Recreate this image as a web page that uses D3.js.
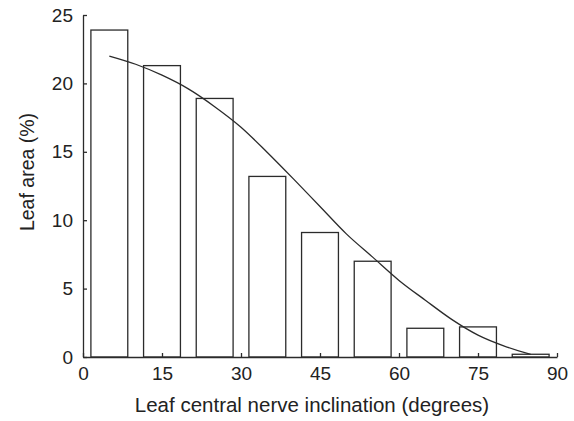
<!DOCTYPE html>
<html>
<head>
<meta charset="utf-8">
<script src="https://cdn.jsdelivr.net/npm/d3@7"></script>
<style>
  body { margin: 0; background: #fff; }
  svg { display: block; font-family: "Liberation Sans", Arial, Helvetica, sans-serif; }
</style>
</head>
<body>
<div id="chart"></div>
<script>
// bin centres (degrees) and leaf area share (%)
var binCentres = [5, 15, 25, 35, 45, 55, 65, 75, 85];
var leafArea   = [23.9, 21.3, 18.9, 13.2, 9.1, 7.0, 2.1, 2.2, 0.2];

// fitted distribution
var curveX = [5, 10, 15, 20, 25, 30, 35, 40, 45, 50, 55, 60, 65, 70, 75, 80, 85];
var curveY = [22.0, 21.4, 20.6, 19.6, 18.3, 16.8, 14.95, 13.0, 11.0, 9.0, 7.3, 5.6, 4.15, 2.75, 1.6, 0.8, 0.2];

var xTicks = [0, 15, 30, 45, 60, 75, 90];
var yTicks = [0, 5, 10, 15, 20, 25];

var width = 574, height = 421;
var margin = {top: 15, right: 17, bottom: 64, left: 83};
var ink = '#2b2b2b';

var svg = d3.select('#chart').append('svg')
    .attr('width', width)
    .attr('height', height);

var x = d3.scaleLinear().domain([0, 90]).range([margin.left, width - margin.right]);
var y = d3.scaleLinear().domain([0, 25]).range([height - margin.bottom, margin.top]);
var halfBin = 3.5;

// bars
svg.selectAll('rect.bar')
    .data(binCentres)
    .enter()
    .append('rect')
    .attr('class', 'bar')
    .attr('x', function(d){ return x(d - halfBin); })
    .attr('width', function(d){ return x(d + halfBin) - x(d - halfBin); })
    .attr('y', function(d, i){ return y(leafArea[i]); })
    .attr('height', function(d, i){ return y(0) - y(leafArea[i]); })
    .attr('fill', 'white')
    .attr('stroke', ink)
    .attr('stroke-width', 1.3);

// fitted curve
var pts = curveX.map(function(d, i){ return [d, curveY[i]]; });
svg.append('path')
    .datum(pts)
    .attr('fill', 'none')
    .attr('stroke', ink)
    .attr('stroke-width', 1.3)
    .attr('d', d3.line()
        .x(function(d){ return x(d[0]); })
        .y(function(d){ return y(d[1]); })
        .curve(d3.curveMonotoneX));

// axes
var xAxis = svg.append('g')
    .attr('transform', 'translate(0,' + y(0) + ')')
    .call(d3.axisBottom(x).tickValues(xTicks).tickSizeInner(-4).tickSizeOuter(0).tickPadding(10));

var yAxis = svg.append('g')
    .attr('transform', 'translate(' + x(0) + ',0)')
    .call(d3.axisLeft(y).tickValues(yTicks).tickSizeInner(-4).tickSizeOuter(0).tickPadding(10));

[xAxis, yAxis].forEach(function(g){
    g.selectAll('path, line').attr('stroke', ink).attr('stroke-width', 1.3);
    g.selectAll('text').attr('font-size', '19px').attr('fill', '#222')
        .attr('font-family', '"Liberation Sans", Arial, sans-serif');
});

// titles
svg.append('text')
    .attr('x', 312)
    .attr('y', 412)
    .attr('text-anchor', 'middle')
    .attr('font-size', '20.5px')
    .attr('fill', '#222')
    .text('Leaf central nerve inclination (degrees)');

svg.append('text')
    .attr('transform', 'translate(34,172) rotate(-90)')
    .attr('text-anchor', 'middle')
    .attr('font-size', '19.5px')
    .attr('fill', '#222')
    .text('Leaf area (%)');
</script>
</body>
</html>
